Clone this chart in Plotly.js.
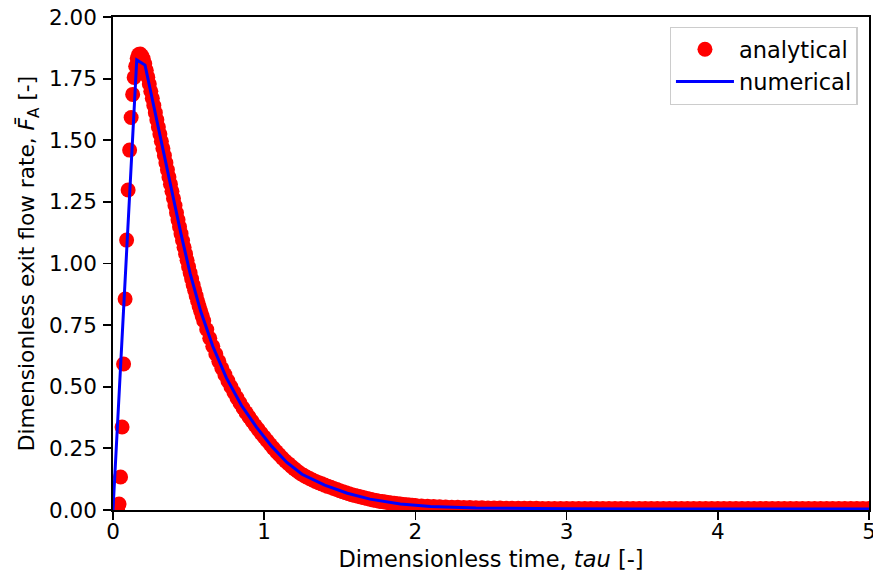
<!DOCTYPE html>
<html>
<head>
<meta charset="utf-8">
<script src="https://cdn.plot.ly/plotly-3.0.1.min.js"></script>
<style>html,body{margin:0;padding:0;background:#fff;}</style>
</head>
<body>
<div id="chart" style="width:873px;height:580px;"></div>
<script>
// Analytical solution (red dots)
const tauA1 = [0.01,0.02,0.03,0.04,0.05,0.06,0.07,0.08,0.09,0.10,0.11,0.12,0.13,0.14,0.15,0.16,0.17,0.18,0.19,0.20,
  0.21,0.22,0.23,0.24,0.25,0.26,0.27,0.28,0.29,0.30,0.31,0.32,0.33,0.34,0.35,0.36,0.37,0.38,0.39,0.40,
  0.41,0.42,0.43,0.44,0.45,0.46,0.47,0.48,0.49,0.50,0.51,0.52,0.53,0.54,0.55,0.56,0.57,0.58,0.59];
const valA1 = [0.000,0.000,0.003,0.024,0.134,0.337,0.592,0.856,1.095,1.298,1.460,1.592,1.686,1.755,1.800,1.832,1.848,1.850,1.843,1.830,
  1.810,1.784,1.756,1.728,1.699,1.670,1.641,1.612,1.583,1.554,1.525,1.496,1.467,1.438,1.409,1.380,1.351,1.322,1.293,1.264,
  1.235,1.206,1.177,1.149,1.121,1.093,1.066,1.039,1.013,0.987,0.962,0.938,0.914,0.891,0.869,0.847,0.826,0.806,0.787];
const tauA2 = [0.60,0.62,0.64,0.66,0.68,0.70,0.72,0.74,0.76,0.78,0.80,0.82,0.84,0.86,0.88,0.90,0.92,0.94,0.96,0.98,1.00,
  1.02,1.04,1.06,1.08,1.10,1.12,1.14,1.16,1.18,1.20,1.22,1.24,1.26,1.28,1.30,1.32,1.34,1.36,1.38,1.40,
  1.42,1.44,1.46,1.48,1.50,1.52,1.54,1.56,1.58,1.60,1.62,1.64,1.66,1.68,1.70,1.72,1.74,1.76,1.78,1.80,
  1.82,1.84,1.86,1.88,1.90,1.92,1.94,1.96,1.98,2.00];
const valA2 = [0.768,0.732,0.697,0.664,0.633,0.603,0.575,0.549,0.524,0.500,0.477,0.455,0.434,0.414,0.395,0.377,0.360,0.343,0.327,0.311,0.296,
  0.281,0.266,0.251,0.237,0.224,0.211,0.199,0.188,0.177,0.167,0.157,0.148,0.141,0.134,0.128,0.122,0.116,0.111,0.106,0.101,
  0.096,0.092,0.087,0.083,0.078,0.074,0.070,0.066,0.062,0.059,0.056,0.053,0.050,0.047,0.044,0.041,0.039,0.036,0.034,0.032,
  0.030,0.028,0.027,0.025,0.024,0.022,0.021,0.020,0.019,0.018];
const tauA3 = [2.04,2.08,2.12,2.16,2.20,2.24,2.28,2.32,2.36,2.40,2.44,2.48,2.52,2.56,
  2.60,2.64,2.68,2.72,2.76,2.80,2.84,2.88,2.92,2.96,3.00,3.04,3.08,3.12,3.16,3.20,3.24,3.28,3.32,3.36,3.40,
  3.44,3.48,3.52,3.56,3.60,3.64,3.68,3.72,3.76,3.80,3.84,3.88,3.92,3.96,4.00,4.04,4.08,4.12,4.16,4.20,
  4.24,4.28,4.32,4.36,4.40,4.44,4.48,4.52,4.56,4.60,4.64,4.68,4.72,4.76,4.80,4.84,4.88,4.92,4.96,5.00];
const valA3 = [0.016,0.015,0.014,0.013,0.012,0.011,0.011,0.010,0.010,0.009,0.009,0.008,0.008,0.008,
  0.007,0.007,0.007,0.007,0.007,0.007,0.006,0.006,0.006,0.006,0.006,0.006,0.006,0.006,0.006,0.006,0.006,0.006,0.006,0.006,0.006,
  0.006,0.006,0.006,0.006,0.006,0.006,0.006,0.006,0.006,0.006,0.006,0.006,0.006,0.006,0.006,0.006,0.006,0.006,0.006,0.006,
  0.006,0.006,0.006,0.006,0.006,0.006,0.006,0.006,0.006,0.006,0.006,0.006,0.006,0.006,0.006,0.006,0.006,0.006,0.006,0.006];

// Numerical solution (blue line)
const tauN = [0,0.157,0.212,0.27,0.33,0.39,0.45,0.51,0.58,0.66,0.75,0.85,0.95,1.05,1.15,1.25,1.40,1.55,1.70,1.90,2.10,2.40,2.70,3.00,3.50,4.00,4.50,5.00];
const valN = [0,1.826,1.805,1.635,1.462,1.290,1.119,0.960,0.806,0.664,0.536,0.424,0.335,0.258,0.193,0.145,0.101,0.068,0.044,0.024,0.014,0.008,0.006,0.005,0.004,0.004,0.004,0.004];

const xTicks = [0,1,2,3,4,5];
const yTicks = [0,0.25,0.5,0.75,1.0,1.25,1.5,1.75,2.0];
const yTickText = ["0.00","0.25","0.50","0.75","1.00","1.25","1.50","1.75","2.00"];

const tauA = tauA1.concat(tauA2, tauA3);
const valA = valA1.concat(valA2, valA3);

const traces = [
  {x: tauA, y: valA, type: 'scatter', mode: 'markers', name: 'analytical',
   marker: {color: '#ff0000', size: 15, line: {width: 0}}, cliponaxis: true},
  {x: tauN, y: valN, type: 'scatter', mode: 'lines', name: 'numerical',
   line: {color: '#0000ff', width: 3}}
];

const axisCommon = {
  ticks: 'outside', ticklen: 8, tickwidth: 1.8, tickcolor: '#000',
  showline: true, linecolor: '#000', linewidth: 1.8, mirror: true,
  showgrid: false, zeroline: false, automargin: false,
  ticklabeloverflow: 'allow',
  tickfont: {family: 'DejaVu Sans', size: 21.5, color: '#000'}
};

const layout = {
  width: 873, height: 580,
  margin: {l: 113, r: 4, t: 17, b: 70, pad: 0},
  paper_bgcolor: '#fff', plot_bgcolor: '#fff',
  font: {family: 'DejaVu Sans', size: 21.5, color: '#000'},
  showlegend: true,
  xaxis: Object.assign({}, axisCommon, {
    range: [0, 5], tickvals: xTicks, ticktext: xTicks.map(String),
    ticklabelstandoff: -7,
    title: {text: 'Dimensionless time, <i>tau</i> [-]', font: {family: 'DejaVu Sans', size: 22.5, color: '#000'}, standoff: 9}
  }),
  yaxis: Object.assign({}, axisCommon, {
    range: [0, 2], tickvals: yTicks, ticktext: yTickText,
    ticklabelstandoff: 2,
    title: {text: 'Dimensionless exit flow rate, <i>F\u0304</i><sub>A</sub> [-]', font: {family: 'DejaVu Sans', size: 21.7, color: '#000'}, standoff: 8}
  }),
  legend: {x: 0.985, y: 0.98, xanchor: 'right', yanchor: 'top',
    bordercolor: '#cccccc', borderwidth: 1.3, bgcolor: 'rgba(255,255,255,0.8)',
    itemwidth: 58,
    font: {family: 'DejaVu Sans', size: 22.5, color: '#000'}}
};

Plotly.newPlot('chart', traces, layout, {displayModeBar: false, staticPlot: true});
</script>
</body>
</html>
